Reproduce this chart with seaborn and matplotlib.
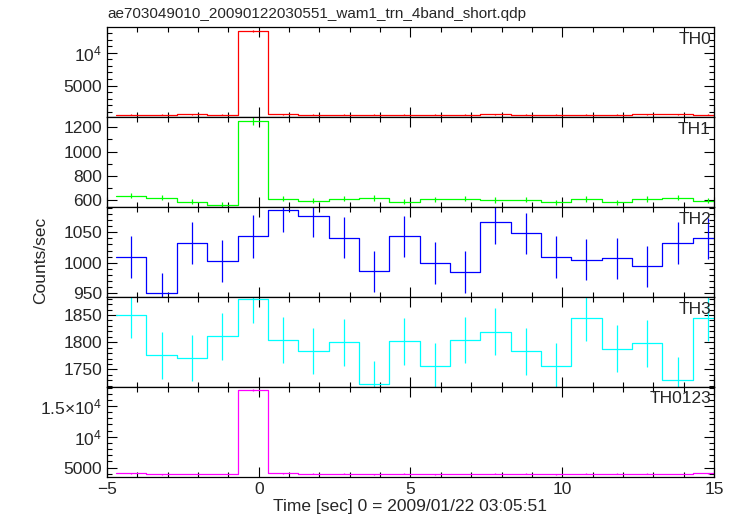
import matplotlib
matplotlib.use('Agg')
import matplotlib.pyplot as plt
import matplotlib.ticker as mticker
import numpy as np
import pandas as pd
import seaborn as sns

# 데이터 (1초 bin, bin 중심 시각)
time_sec = [-4.2, -3.2, -2.2, -1.2, -0.2, 0.8, 1.8, 2.8, 3.8, 4.8,
            5.8, 6.8, 7.8, 8.8, 9.8, 10.8, 11.8, 12.8, 13.8, 14.8]

th0 = [565, 560, 575, 560, 13300, 570, 555, 560, 545, 565,
       550, 560, 570, 555, 560, 565, 560, 570, 575, 560]
th0_err = [25, 25, 25, 25, 120, 25, 25, 25, 25, 25,
           25, 25, 25, 25, 25, 25, 25, 25, 25, 25]

th1 = [638, 622, 587, 562, 1250, 613, 595, 613, 619, 587,
       608, 613, 603, 605, 584, 611, 584, 611, 621, 597]
th1_err = [22, 22, 21, 21, 33, 22, 21, 22, 22, 21,
           22, 22, 22, 22, 21, 22, 21, 22, 22, 21]

th2 = [1009, 951, 1032, 1003, 1043, 1086, 1077, 1041, 986, 1043,
       1000, 985, 1066, 1048, 1009, 1005, 1007, 994, 1032, 1040]
th2_err = [34, 33, 34, 34, 35, 35, 35, 34, 34, 34,
           34, 34, 35, 34, 34, 34, 34, 34, 34, 34]

th3 = [1850, 1776, 1771, 1811, 1879, 1804, 1784, 1800, 1724, 1802,
       1757, 1804, 1819, 1783, 1757, 1845, 1788, 1798, 1730, 1845]
th3_err = [43, 43, 43, 43, 44, 43, 43, 43, 42, 43,
           42, 43, 43, 43, 42, 43, 43, 43, 42, 43]

th0123 = [4060, 3930, 3960, 3940, 17650, 4050, 4000, 4010, 3880, 4010,
          3920, 3960, 4000, 3990, 3920, 4030, 3990, 4000, 3960, 4040]
th0123_err = [68, 67, 67, 67, 140, 68, 68, 68, 67, 68,
              67, 67, 68, 68, 67, 68, 68, 68, 67, 68]

band_names = ['TH0', 'TH1', 'TH2', 'TH3', 'TH0123']
band_colors = ['#ff0000', '#00ff00', '#0000ff', '#00ffff', '#ff00ff']
band_rates = [th0, th1, th2, th3, th0123]
band_errs = [th0_err, th1_err, th2_err, th3_err, th0123_err]
band_ylims = [(150, 13900), (543, 1282), (944, 1091), (1718, 1883), (3500, 18100)]

# 스타일
sns.set_style('ticks')
plt.rcParams['font.family'] = ['Liberation Sans', 'DejaVu Sans']
plt.rcParams['mathtext.fontset'] = 'custom'
plt.rcParams['mathtext.rm'] = 'Liberation Sans'
plt.rcParams['mathtext.it'] = 'Liberation Sans:italic'

fig = plt.figure(figsize=(7.33, 5.16), dpi=100)
gs = fig.add_gridspec(5, 1, left=0.146, right=0.974, top=0.947, bottom=0.076, hspace=0)
axes = [fig.add_subplot(gs[i]) for i in range(5)]

for i, ax in enumerate(axes):
    df = pd.DataFrame({'time': time_sec, 'rate': band_rates[i], 'err': band_errs[i]})
    # 계단 그래프: bin 왼쪽 경계 + 마지막 오른쪽 경계
    step_x = list(df['time'] - 0.5) + [df['time'].iloc[-1] + 0.5]
    step_y = list(df['rate']) + [df['rate'].iloc[-1]]
    sns.lineplot(x=step_x, y=step_y, drawstyle='steps-post',
                 color=band_colors[i], lw=0.9, ax=ax)
    ax.errorbar(df['time'], df['rate'], yerr=df['err'], fmt='none',
                ecolor=band_colors[i], elinewidth=0.9)

    ax.set_xlim(-5, 15)
    ax.set_ylim(*band_ylims[i])
    ax.set_xlabel('')
    ax.set_ylabel('')
    ax.xaxis.set_major_locator(mticker.MultipleLocator(5))
    ax.xaxis.set_minor_locator(mticker.MultipleLocator(1))
    ax.tick_params(which='both', direction='in', top=True, right=True,
                   labelsize=12.5, width=0.8, color='black')
    ax.tick_params(which='major', length=7)
    ax.tick_params(which='minor', length=3.5)
    for sp in ax.spines.values():
        sp.set_color('black')
        sp.set_linewidth(0.9)
    if i < 4:
        ax.tick_params(labelbottom=False)
    ax.text(0.995, 0.95, band_names[i], transform=ax.transAxes,
            ha='right', va='top', fontsize=12.5)

# y축 눈금
axes[0].yaxis.set_major_locator(mticker.FixedLocator([5000, 10000]))
axes[0].yaxis.set_major_formatter(mticker.FixedFormatter(['5000', r'$10^4$']))
axes[0].yaxis.set_minor_locator(mticker.MultipleLocator(1000))

axes[1].yaxis.set_major_locator(mticker.MultipleLocator(200))
axes[1].yaxis.set_minor_locator(mticker.MultipleLocator(100))

axes[2].yaxis.set_major_locator(mticker.MultipleLocator(50))
axes[2].yaxis.set_minor_locator(mticker.MultipleLocator(10))

axes[3].yaxis.set_major_locator(mticker.MultipleLocator(50))
axes[3].yaxis.set_minor_locator(mticker.MultipleLocator(10))

axes[4].yaxis.set_major_locator(mticker.FixedLocator([5000, 10000, 15000]))
axes[4].yaxis.set_major_formatter(
    mticker.FixedFormatter(['5000', r'$10^4$', r'$1.5{\times}10^4$']))
axes[4].yaxis.set_minor_locator(mticker.MultipleLocator(1000))

axes[4].set_xlabel('Time [sec] 0 = 2009/01/22 03:05:51', fontsize=12.5, labelpad=2)
fig.text(0.055, 0.496, 'Counts/sec', rotation=90, ha='center', va='center', fontsize=12.5)
fig.text(0.146, 0.96, 'ae703049010_20090122030551_wam1_trn_4band_short.qdp',
         ha='left', va='bottom', fontsize=11)

fig.savefig('out.png', dpi=100, facecolor='white')
